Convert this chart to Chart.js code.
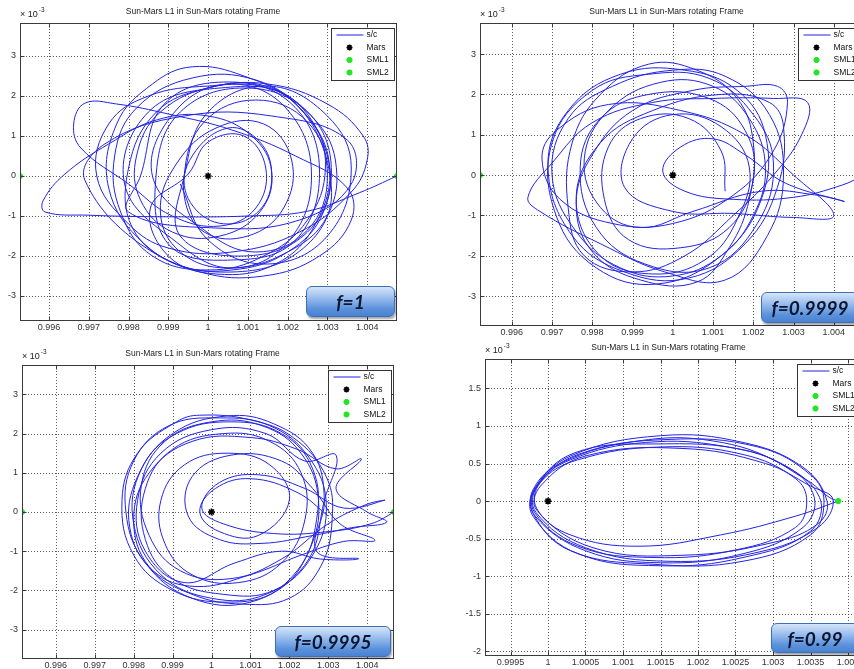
<!DOCTYPE html>
<html><head><meta charset="utf-8">
<script src="https://cdn.jsdelivr.net/npm/chart.js@4.4.1/dist/chart.umd.min.js"></script>
<style>
html,body{margin:0;padding:0;background:#fff;overflow:hidden;}
body{width:854px;height:669px;position:relative;}
canvas.pl{position:absolute;display:block;}
.badge{position:absolute;box-sizing:border-box;border:1px solid #3d6fb8;border-radius:6px;
background:linear-gradient(to bottom,#d6e5f9 0%,#9dc0ee 35%,#5b92dc 75%,#4a82d2 100%);
box-shadow:1px 2px 2px rgba(0,0,0,0.35);display:flex;align-items:center;justify-content:center;
font:italic 700 19px Lato,"DejaVu Sans",sans-serif;color:#0c1630;z-index:5;white-space:nowrap;}
</style></head><body>
<canvas id="c1" class="pl"></canvas>
<canvas id="c2" class="pl"></canvas>
<canvas id="c3" class="pl"></canvas>
<canvas id="c4" class="pl"></canvas>
<script>
// ---------- data (x in rotating-frame units, y in units of 1e-3) ----------
const chartTitle = 'Sun-Mars L1 in Sun-Mars rotating Frame';
const seriesLabels = ['s/c', 'Mars', 'SML1', 'SML2'];
const fLabels = ['f=1', 'f=0.9999', 'f=0.9995', 'f=0.99'];

const orbitF1 = [
[1.00475,0],[1.0038,-0.42],[1.0025,-0.88],[1.0010,-1.0],[0.9990,-1.02],[0.9970,-0.98],[0.9959,-0.9],[0.99585,-0.62],
[0.9964,0.05],[0.9975,0.8],[0.9987,1.4],[1.0000,1.5],[1.0011,1.0],[1.0016,0.1],[1.0013,-0.9],[1.0003,-1.5],
[0.9991,-1.4],[0.9983,-0.6],[0.9982,0.5],[0.9988,1.6],[1.0002,2.25],[1.0016,2.2],[1.0026,1.4],[1.00295,0.2],
[1.0025,-1.1],[1.0014,-2.0],[1.0000,-2.35],[0.9986,-2.0],[0.9978,-0.9],[0.99765,0.5],[0.9982,1.7],[0.9996,2.45],
[1.0012,2.4],[1.0024,1.6],[1.00305,0.3],[1.0027,-1.2],[1.0017,-2.2],[1.0002,-2.45],[0.9990,-2.0],[0.99855,-0.8],
[0.9995,0.05],[1.0000,0.85],[1.0009,1.0],[1.00145,0.2],[1.0012,-0.8],[1.0003,-1.25],[0.9991,-1.0],[0.9980,-0.2],
[0.9968,0.7],[0.99662,1.3],[0.9969,1.82],[0.9977,1.8],[0.9990,1.55],[1.0006,1.15],[1.0022,0.5],[1.0035,-0.3],
[1.0036,-1.1],[1.0028,-2.0],[1.0014,-2.5],[0.9998,-2.4],[0.9984,-1.7],[0.9975,-0.3],[0.9977,1.3],[0.9986,2.3],
[0.9996,2.73],[1.0009,2.5],[1.0022,1.8],[1.0030,0.5],[1.0029,-0.9],[1.0020,-1.9],[1.0006,-2.35],[0.9992,-2.2],
[0.9981,-1.3],[0.9980,0.2],[0.9987,1.6],[1.0000,2.2],[1.0015,2.3],[1.0030,1.8],[1.0039,1.0],[1.0040,0.4],
[1.0036,-0.4],[1.0023,-1.4],[1.0006,-1.9],[0.9990,-1.8],[0.9980,-1.2],[0.9972,0.0],[0.9975,1.3],[0.9985,2.0],
[1.0000,2.25],[1.0015,2.2],[1.0026,1.5],[1.0032,0.4],[1.0030,-1.0],[1.0020,-1.9],[1.0005,-2.3],[0.9993,-1.9],
[0.9988,-0.9],[0.9992,0.3],[1.0002,1.2],[1.0014,1.3],[1.0021,0.4],[1.0019,-0.8],[1.0010,-1.5],[0.9999,-1.4],
[0.9994,-0.5],[0.9996,0.5],
[1.0005,1.2],[1.0013,0.85],[1.0016,0],[1.0013,-0.85],[1.0005,-1.2],[0.9997,-0.85],
[0.9994,0.0],[0.9999,1.35],[1.0012,1.9],[1.0025,1.35],[1.0030,0.0],[1.0025,-1.35],[1.0012,-1.9],[0.9999,-1.35],
[0.9986,0.0],[0.9992,1.65],[1.0006,2.3],[1.0020,1.65],[1.0026,0.0],[1.0020,-1.65],[1.0006,-2.3],[0.9992,-1.65],
[0.9979,-0.2],[0.9985,1.6],[1.0003,2.2],[1.0021,1.9],[1.0031,-0.3],[1.0024,-1.8],[1.0006,-2.4],[0.9986,-1.9],
[0.9969,-0.1],[0.9974,0.8],[0.9994,1.5],[1.0016,1.5],[1.0035,0.9],[1.0036,-0.2],[1.0023,-1.1],[1.0002,-1.3],[0.9980,-0.9],
[0.9983,0.0],[0.9989,1.8],[1.0005,2.35],[1.0021,1.8],[1.0028,0.2],[1.0022,-1.6],[1.0006,-2.1],[0.9990,-1.7],
[0.9987,0.1],[0.9993,1.6],[1.0009,2.2],[1.0025,1.6],[1.0031,0.1],[1.0025,-1.4],[1.0009,-2.0],[0.9993,-1.5],
[0.9994,0.0],[1.0000,1.6],[1.0015,2.25],[1.0030,1.5],[1.0036,0.2],[1.0030,-1.5],[1.0015,-2.2],[1.0000,-1.6],
[0.9993,-0.2]
];

const orbitF09999 = [
[1.00475,0],[1.0042,-0.25],[1.0030,-0.55],[1.0015,-0.6],[1.0003,-0.4],[0.99975,0.1],[1.0002,0.7],[1.0010,0.9],
[1.0018,0.5],[1.0028,-0.2],[1.00425,-0.65],[1.0036,-0.5],[1.0022,-0.4],[1.0005,-0.9],[0.9992,-1.3],[0.9982,-0.8],
[0.9978,0.4],[0.9984,1.6],[0.9997,2.3],[1.0010,2.2],[1.0019,1.4],[1.0023,0.2],[1.0020,-1.0],[1.0012,-2.0],
[1.0000,-2.5],[0.9987,-2.3],[0.9976,-1.4],[0.9970,0.0],[0.9974,1.4],[0.9985,2.2],[1.0000,2.6],[1.0013,2.45],
[1.0024,1.5],[1.00275,0.0],[1.00235,-1.5],[1.0013,-2.6],[0.9998,-2.4],[0.9982,-1.7],[0.9967,-0.9],[0.9964,-0.55],
[0.9970,0.3],[0.9980,1.3],[0.9995,1.8],[1.0010,1.9],[1.0025,1.9],[1.00335,1.8],[1.0032,1.0],[1.0025,0.0],
[1.0015,-1.0],[1.0003,-2.0],[0.9990,-2.4],[0.9978,-2.0],[0.9974,-0.8],[0.9975,0.8],[0.9982,2.0],[0.9994,2.75],
[1.0006,2.6],[1.0016,1.9],[1.0020,0.8],[1.0019,-0.6],[1.0014,-1.8],[1.0006,-2.65],[0.9992,-2.6],[0.9980,-1.9],
[0.9976,-0.7],[0.9980,0.5],[0.9990,1.6],[1.0005,2.1],[1.0018,2.2],[1.0026,2.2],[1.00285,1.8],[1.0025,0.6],
[1.0015,-0.5],[1.0000,-1.2],[0.9985,-1.2],[0.9972,-0.6],[0.99675,0.4],[0.9971,1.1],[0.9984,1.75],[1.0002,1.6],
[1.0018,1.0],[1.0030,0.0],[1.0040,-1.0],[1.0030,-1.05],[1.0015,-0.95],[1.0000,-0.9],[0.9988,-0.3],[0.9990,0.9],
[1.0000,1.5],[1.0012,1.2],[1.0019,0.2],[1.0016,-1.1],[1.0008,-2.1],[0.9995,-2.45],[0.9982,-2.0],[0.9976,-0.6],
[0.9982,0.8],[0.9995,1.6],[1.0012,2.0],[1.0024,1.8],[1.00275,1.2],
[1.0026,-0.3],[1.0018,-1.7],[1.0004,-2.55],[0.9988,-2.4],[0.9975,-1.5],[0.9969,0.2],[0.9974,1.6],[0.9987,2.5],[1.0003,2.6],[1.0016,2.1],[1.0023,1.0],
[1.0022,-0.6],[1.0012,-2.0],[0.9996,-2.7],[0.9981,-2.3],[0.9971,-1.0],[0.9970,0.8],[0.9980,2.1],[0.9994,2.5],[1.0009,2.4],[1.0020,1.5],
[1.0025,0.3],[1.0021,-1.2],[1.0009,-2.3],[0.9993,-2.2],[0.9981,-1.3],[0.9977,0.2],[0.9982,1.4],[0.9994,2.0],[1.0009,1.9],[1.0018,1.1],[1.0020,-0.1],
[1.0014,-1.3],[1.0002,-1.8],[0.9989,-1.6],[0.9983,-0.6],[0.9984,0.7],[0.9992,1.4],[1.0004,1.4],[1.0012,0.6],[1.0013,-0.4]
];

const orbitF09995 = [
[1.0047,0],[1.0041,-0.3],[1.0030,-0.5],[1.0016,-0.55],[1.0003,-0.3],[0.99975,0.1],[1.0002,0.75],[1.0012,0.95],
[1.0024,0.6],[1.0034,0.1],[1.00445,0.3],[1.0040,0.2],[1.0030,-0.3],[1.0018,-1.2],[1.0005,-1.7],[0.9992,-1.5],
[0.9984,-0.6],[0.9982,0.7],[0.9988,1.8],[1.0000,2.3],[1.0013,2.2],[1.0023,1.5],[1.00275,0.3],[1.0025,-1.0],
[1.0017,-2.0],[1.0004,-2.3],[0.9990,-2.0],[0.9980,-1.1],[0.9977,0.3],[0.9981,1.5],[0.9991,2.3],[0.9997,2.47],
[1.0010,2.35],[1.0021,1.9],[1.00295,0.9],[1.0031,-0.2],[1.0028,-1.4],[1.0020,-2.2],[1.0008,-2.35],[0.9995,-2.1],
[0.9984,-1.4],[0.9980,-0.2],[0.9984,1.0],[0.9995,1.8],[1.0010,1.9],[1.0022,1.6],[1.0032,1.1],[1.00385,1.35],
[1.0032,0.6],[1.0040,0.0],[1.0045,-0.26],[1.0036,-0.4],[1.0026,-0.6],[1.0013,-0.8],[1.0002,-0.7],[0.9994,-0.1],
[0.9995,0.9],[1.0005,1.45],[1.0018,1.3],[1.0026,0.6],[1.0033,-0.3],[1.0042,-0.72],[1.0034,-0.75],[1.0023,-1.1],
[1.0010,-1.6],[0.9996,-1.9],[0.9985,-1.5],[0.9979,-0.4],[0.9981,0.9],[0.9990,2.0],[1.0004,2.45],[1.0016,2.25],
[1.0026,1.5],[1.0029,0.3],[1.0027,-1.0],[1.00378,-1.19],[1.0028,-1.2],[1.0018,-1.0],[1.0006,-1.3],[0.9993,-1.8],
[0.9983,-1.0],[0.9981,0.3],[0.9987,1.5],[1.0000,2.1],[1.0014,2.0],[1.0024,1.3],[1.0032,1.45],
[1.0029,0.3],[1.0025,-1.2],[1.0014,-2.1],[1.0000,-2.2],[0.9987,-1.6],[0.9980,-0.3],[0.9982,1.1],[0.9991,2.0],[1.0005,2.3],[1.0018,2.0],[1.0026,1.1],
[1.0027,-0.2],[1.0022,-1.5],[1.0010,-2.3],[0.9995,-2.2],[0.9983,-1.3],[0.9978,0.0],[0.9980,1.3],[0.9989,2.2],[1.0002,2.4],[1.0015,2.2],[1.0025,1.4],
[1.00295,0.2],[1.0026,-1.1],[1.0016,-2.0],[1.0003,-2.1],[0.9990,-1.7],[0.9983,-0.7],[0.9983,0.6],[0.9990,1.6],[1.0003,2.0],[1.0015,1.8],[1.0023,1.0],
[1.0024,-0.2],[1.0018,-1.3],[1.0007,-1.8],[0.9995,-1.6],[0.9988,-0.8],[0.9987,0.3],[0.9993,1.2],[1.0004,1.5],[1.0015,1.2],[1.0020,0.3],
[1.0012,-0.6],[1.0002,-0.5],[0.9997,0.0],[1.0001,0.6],[1.0010,0.85],[1.0022,0.5],[1.0030,-0.1]
];

const orbitF099 = [
[1.00387,0],[1.0033,-0.2],[1.0023,-0.45],[1.0012,-0.6],[1.0003,-0.45],[0.99985,-0.1],[0.9999,0.25],[1.0004,0.55],
[1.0015,0.72],[1.0026,0.62],[1.0033,0.3],[1.00345,0],[1.0033,-0.35],[1.0025,-0.65],[1.0014,-0.75],[1.0004,-0.6],
[0.99982,-0.15],[0.99985,0.2],[1.0003,0.55],[1.0013,0.78],[1.0024,0.72],[1.0032,0.45],[1.00355,0.05],[1.0034,-0.35],
[1.0026,-0.7],[1.0015,-0.82],[1.0005,-0.66],[0.99983,-0.2],[0.9998,0.15],[1.0002,0.52],[1.0012,0.8],[1.0022,0.8],
[1.0031,0.5],[1.00362,0.05],[1.0035,-0.4],[1.0026,-0.75],[1.0015,-0.86],[1.0004,-0.7],[0.9998,-0.2],[0.99982,0.15],
[1.0003,0.6],[1.0015,0.87],[1.0026,0.78],[1.0034,0.45],[1.00372,0],[1.0036,-0.3],[1.0030,-0.55],[1.0018,-0.72],
[1.0006,-0.62],[0.99985,-0.12],[0.9999,0.2],[1.0005,0.6],[1.0018,0.7],[1.0029,0.5],[1.0035,0.2],[1.0038,0.02],
[1.0036,-0.35],[1.0028,-0.68],[1.0016,-0.8],[1.0005,-0.62],[0.99984,-0.15],[0.99986,0.2],[1.0004,0.62],[1.0016,0.82],
[1.0028,0.72],[1.0035,0.35],[1.00368,0.0],[1.0035,-0.45],[1.0026,-0.8],[1.0014,-0.84],[1.0003,-0.66],[0.99981,-0.18],
[0.99983,0.18],[1.00035,0.64],[1.0014,0.76],[1.0027,0.66],[1.00345,0.28],[1.00375,0.05],[1.00387,0.0]
];

const marsPos = [1, 0];
const sml1Pos = [[0.99527,0],[0.99521,0],[0.99513,0],[0.99613,0]];
const sml2Pos = [[1.00475,0],[1.00475,0],[1.00469,0],[1.00387,0]];

const xMins = [0.99527, 0.99521, 0.99513, 0.99916];
const xMaxs = [1.00475, 1.00475, 1.00469, 1.0042];
const yMins = [-3.625, -3.74, -3.75, -2.06];
const yMaxs = [3.825, 3.77, 3.75, 1.89];
const xSteps = [0.001, 0.001, 0.001, 0.0005];
const ySteps = [1, 1, 1, 0.5];

// ---------- layout (positions only) ----------
const layouts = [
  {canvas:[0,0,420,340],   pad:{left:0,top:23,right:23,bottom:0}, yW:20, xH:19, badge:[306,286,89,31]},
  {canvas:[430,0,440,340], pad:{left:0,top:23,right:5,bottom:0},  yW:50, xH:14, badge:[761,292,98,31]},
  {canvas:[0,340,420,329], pad:{left:0,top:25,right:26,bottom:0}, yW:22, xH:10, badge:[275,626,116,31]},
  {canvas:[430,340,440,329],pad:{left:0,top:19,right:7,bottom:0}, yW:55, xH:13, badge:[771,623,88,30]}
];
const orbits = [orbitF1, orbitF09999, orbitF09995, orbitF099];

const FONT = '"Liberation Sans", Arial, sans-serif';
const toPts = arr => arr.map(p => ({x:p[0], y:p[1]}));

function drawStar(ctx, x, y, r, color, w) {
  ctx.save();
  ctx.strokeStyle = color; ctx.lineWidth = w; ctx.setLineDash([]);
  ctx.beginPath();
  ctx.moveTo(x - r, y); ctx.lineTo(x + r, y);
  ctx.moveTo(x, y - r); ctx.lineTo(x, y + r);
  const d = r * 0.7071;
  ctx.moveTo(x - d, y - d); ctx.lineTo(x + d, y + d);
  ctx.moveTo(x - d, y + d); ctx.lineTo(x + d, y - d);
  ctx.stroke();
  ctx.restore();
}

const decoPlugin = {
  id: 'deco',
  beforeDatasetsDraw(chart) {
    const {ctx, chartArea: a, scales: {x, y}} = chart;
    ctx.save();
    ctx.strokeStyle = 'rgba(50,50,50,0.8)';
    ctx.lineWidth = 1;
    ctx.setLineDash([1, 2]);
    x.ticks.forEach(t => {
      const px = Math.round(x.getPixelForValue(t.value)) + 0.5;
      ctx.beginPath(); ctx.moveTo(px, a.top); ctx.lineTo(px, a.bottom); ctx.stroke();
    });
    y.ticks.forEach(t => {
      const py = Math.round(y.getPixelForValue(t.value)) + 0.5;
      ctx.beginPath(); ctx.moveTo(a.left, py); ctx.lineTo(a.right, py); ctx.stroke();
    });
    ctx.restore();
  },
  afterDatasetsDraw(chart) {
    const {ctx, chartArea: a, scales: {x, y}} = chart;
    ctx.save();
    ctx.setLineDash([]);
    ctx.strokeStyle = '#3a3a3a'; ctx.lineWidth = 1;
    const L = Math.round(a.left) + 0.5, R = Math.round(a.right) - 0.5, T = Math.round(a.top) + 0.5, B = Math.round(a.bottom) - 0.5;
    ctx.strokeRect(L, T, R - L, B - T);
    ctx.beginPath();
    x.ticks.forEach(t => {
      const px = Math.round(x.getPixelForValue(t.value)) + 0.5;
      ctx.moveTo(px, B); ctx.lineTo(px, B - 4);
      ctx.moveTo(px, T); ctx.lineTo(px, T + 4);
    });
    y.ticks.forEach(t => {
      const py = Math.round(y.getPixelForValue(t.value)) + 0.5;
      ctx.moveTo(L, py); ctx.lineTo(L + 4, py);
      ctx.moveTo(R, py); ctx.lineTo(R - 4, py);
    });
    ctx.stroke();
    ctx.fillStyle = '#222';
    ctx.font = '8.5px ' + FONT;
    ctx.textAlign = 'center'; ctx.textBaseline = 'middle';
    ctx.fillText(chartTitle, (a.left + a.right) / 2 - 5.5, a.top - 11);
    ctx.textAlign = 'left'; ctx.textBaseline = 'alphabetic';
    ctx.font = '9px ' + FONT;
    const base = '\u00d7 10';
    ctx.fillText(base, a.left, a.top - 6);
    const bw = ctx.measureText(base).width;
    ctx.font = '6.5px ' + FONT;
    ctx.fillText('-3', a.left + bw + 1, a.top - 11);
    const lw = 63, lh = 52;
    const lx = Math.round(a.right - 3 - lw) + 0.5, ly = Math.round(a.top + 5) + 0.5;
    ctx.fillStyle = '#fff'; ctx.fillRect(lx, ly, lw, lh);
    ctx.strokeStyle = '#333'; ctx.strokeRect(lx, ly, lw, lh);
    const rows = [6.5, 19, 31.5, 44];
    chart.data.datasets.forEach((ds, i) => {
      const cy = ly + rows[i];
      if (ds.showLine) {
        ctx.strokeStyle = ds.borderColor; ctx.lineWidth = 1;
        ctx.beginPath(); ctx.moveTo(lx + 5, cy); ctx.lineTo(lx + 32, cy); ctx.stroke();
      } else {
        drawStar(ctx, lx + 18, cy, 3, ds.borderColor, ds.borderWidth);
      }
      ctx.fillStyle = '#111';
      ctx.font = '8.5px ' + FONT;
      ctx.textBaseline = 'middle';
      ctx.fillText(ds.label, lx + 35, cy);
    });
    ctx.restore();
  }
};

orbits.forEach((orbit, i) => {
  const L = layouts[i];
  const cv = document.getElementById('c' + (i + 1));
  cv.width = L.canvas[2]; cv.height = L.canvas[3];
  cv.style.left = L.canvas[0] + 'px'; cv.style.top = L.canvas[1] + 'px';
  cv.style.width = L.canvas[2] + 'px'; cv.style.height = L.canvas[3] + 'px';
  const tickFmt = v => String(parseFloat(Number(v).toFixed(5)));
  new Chart(cv, {
    type: 'scatter',
    data: {
      datasets: [
        {label: seriesLabels[0], data: toPts(orbit), showLine: true, borderColor: 'rgb(35,35,228)', borderWidth: 1,
         pointRadius: 0, tension: 0.4, fill: false, order: 2},
        {label: seriesLabels[1], data: toPts([marsPos]), showLine: false, pointStyle: 'star', pointRadius: 3.5,
         borderColor: '#000', backgroundColor: '#000', borderWidth: 1.6, order: 1},
        {label: seriesLabels[2], data: toPts([sml1Pos[i]]), showLine: false, pointStyle: 'star', pointRadius: 3,
         borderColor: '#22e622', backgroundColor: '#22e622', borderWidth: 2, order: 1},
        {label: seriesLabels[3], data: toPts([sml2Pos[i]]), showLine: false, pointStyle: 'star', pointRadius: 3,
         borderColor: '#22e622', backgroundColor: '#22e622', borderWidth: 2, order: 1}
      ]
    },
    options: {
      responsive: false, animation: false, devicePixelRatio: 1,
      layout: {padding: L.pad},
      plugins: {legend: {display: false}, tooltip: {enabled: false}, title: {display: false}},
      events: [],
      scales: {
        x: {
          type: 'linear', min: xMins[i], max: xMaxs[i],
          grid: {display: false, drawTicks: false}, border: {display: false},
          ticks: {stepSize: xSteps[i], includeBounds: false, autoSkip: false, maxRotation: 0, padding: 1,
                  color: '#333', font: {family: FONT, size: 9}, callback: tickFmt},
          afterFit: s => { s.height = L.xH; }
        },
        y: {
          type: 'linear', min: yMins[i], max: yMaxs[i],
          grid: {display: false, drawTicks: false}, border: {display: false},
          ticks: {stepSize: ySteps[i], includeBounds: false, autoSkip: false, padding: 4,
                  color: '#333', font: {family: FONT, size: 9}, callback: tickFmt},
          afterFit: s => { s.width = L.yW; }
        }
      }
    },
    plugins: [decoPlugin]
  });
  const b = document.createElement('div');
  b.className = 'badge';
  b.textContent = fLabels[i];
  b.style.left = L.badge[0] + 'px'; b.style.top = L.badge[1] + 'px';
  b.style.width = L.badge[2] + 'px'; b.style.height = L.badge[3] + 'px';
  document.body.appendChild(b);
});
</script>
</body></html>
